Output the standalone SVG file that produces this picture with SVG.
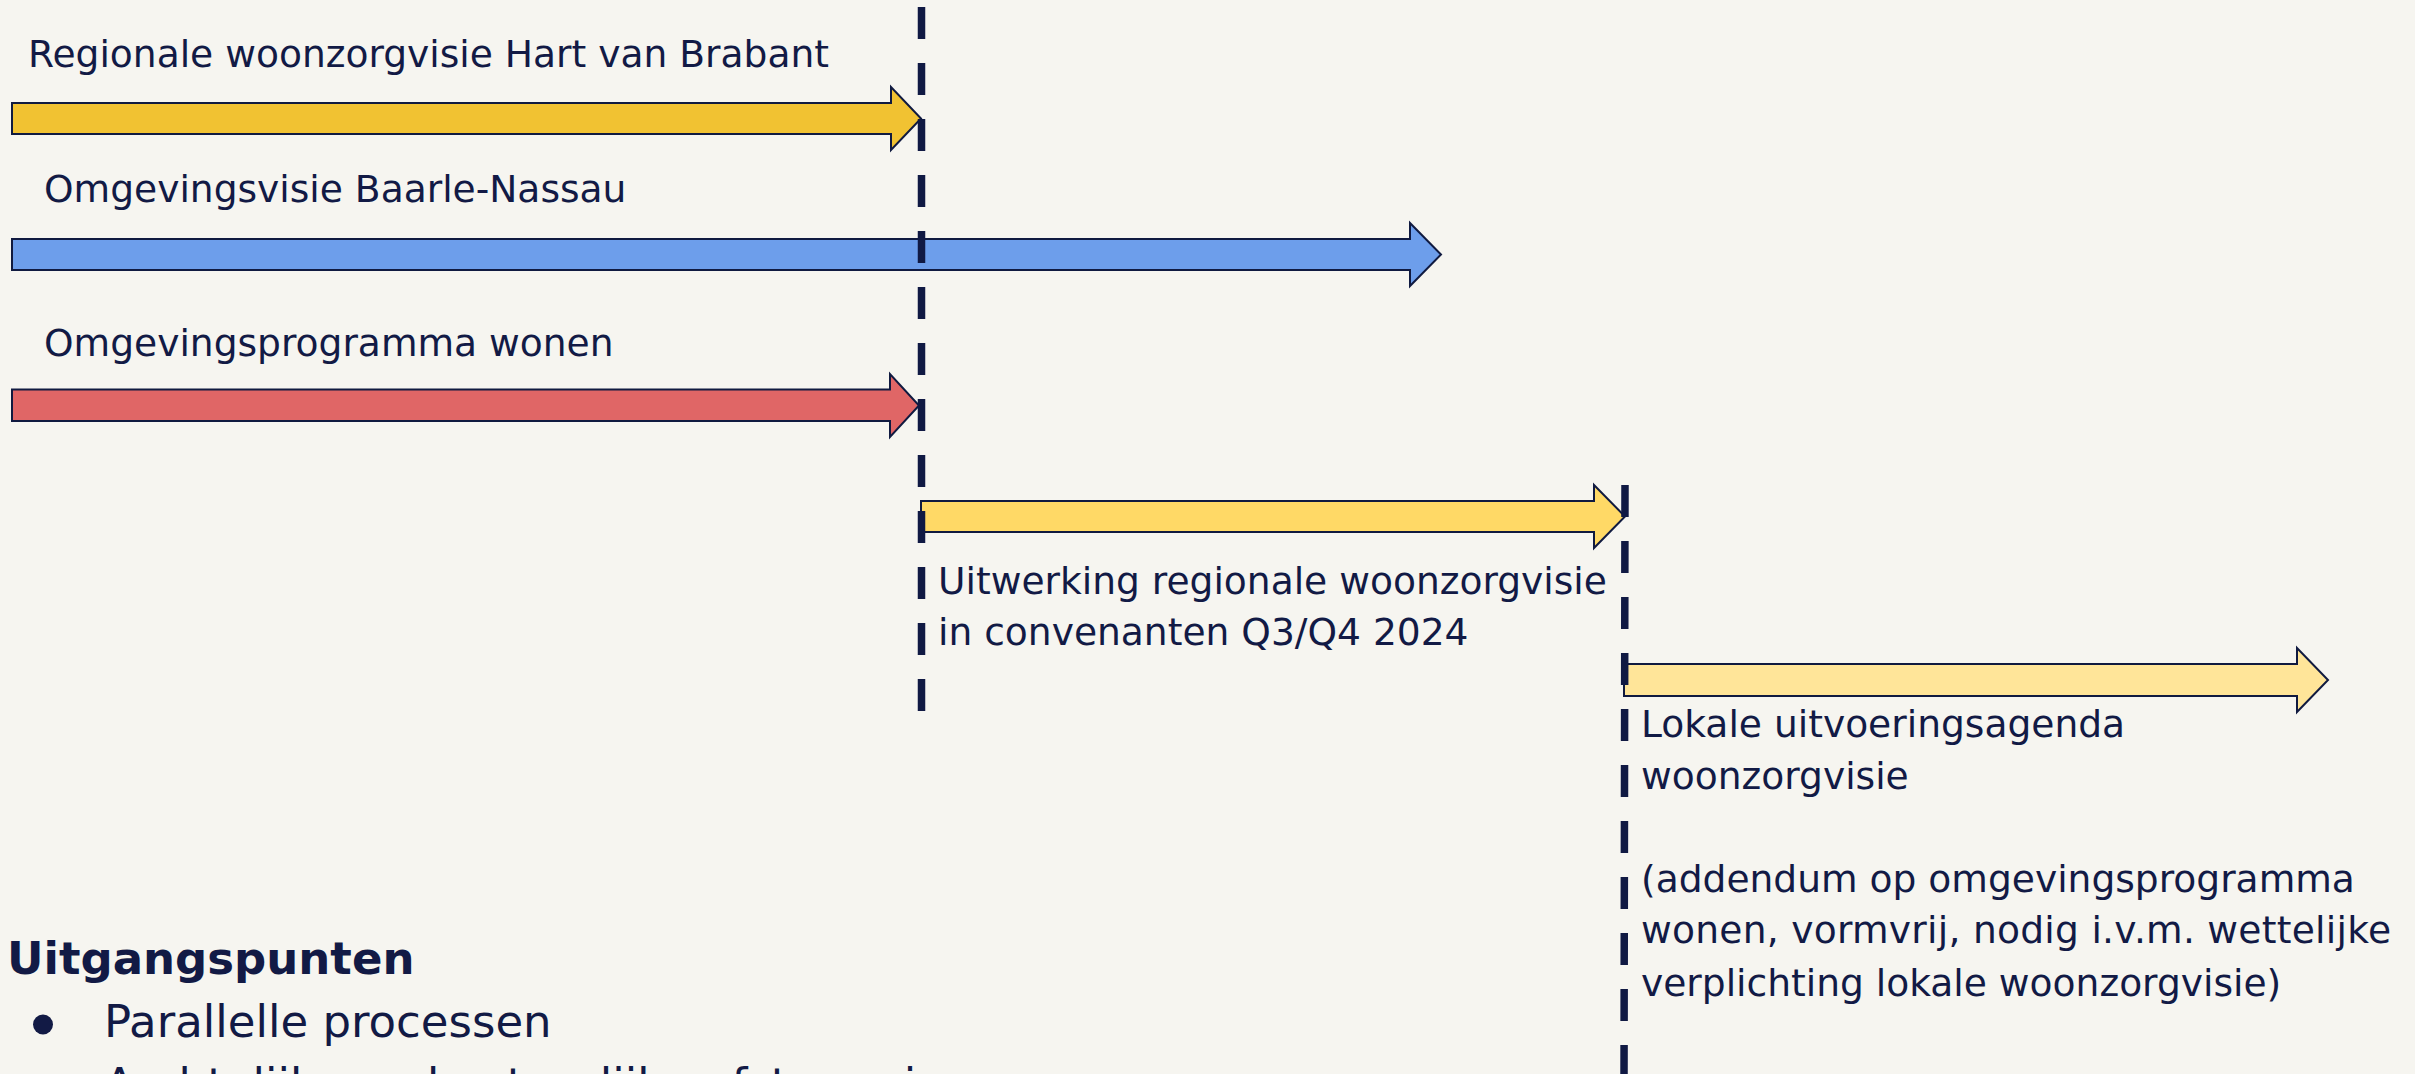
<svg xmlns="http://www.w3.org/2000/svg" width="2415" height="1074" viewBox="0 0 2415 1074">
<style>
.lbl{font-family:"DejaVu Sans","Verdana",sans-serif;font-size:37.6px;fill:#121A45}
.big{font-family:"DejaVu Sans","Verdana",sans-serif;font-size:45px;fill:#121A45}
.bold{font-weight:bold}
.arrow{stroke:#101A40;stroke-width:2;stroke-linejoin:miter}
.milestone{stroke:#101943;stroke-width:7.5;stroke-dasharray:32 24;fill:none}
</style>
<rect width="2415" height="1074" fill="#F6F5F0"/>
<g id="node-regionale">
<path class="arrow" fill="#F1C232" d="M12,103 H891 V87 L921,118.5 L891,150 V134 H12 Z"/>
<text class="lbl" x="28" y="67">Regionale woonzorgvisie Hart van Brabant</text>
</g>
<g id="node-omgevingsvisie">
<path class="arrow" fill="#6D9EEB" d="M12,239 H1410 V223 L1441,254.5 L1410,286 V270 H12 Z"/>
<text class="lbl" x="44" y="202">Omgevingsvisie Baarle-Nassau</text>
</g>
<g id="node-omgevingsprogramma">
<path class="arrow" fill="#E06666" d="M12,389.5 H890 V374 L919,405.5 L890,437 V421 H12 Z"/>
<text class="lbl" x="44" y="356">Omgevingsprogramma wonen</text>
</g>
<g id="node-uitwerking">
<path class="arrow" fill="#FFD966" d="M921,501 H1594 V485 L1625,516.5 L1594,548 V532 H921 Z"/>
<text class="lbl" x="938" y="594">Uitwerking regionale woonzorgvisie</text>
<text class="lbl" x="938" y="645">in convenanten Q3/Q4 2024</text>
</g>
<g id="node-lokale">
<path class="arrow" fill="#FFE599" d="M1624,664 H2297 V648 L2328,680 L2297,712 V696 H1624 Z"/>
<text class="lbl" x="1641" y="737">Lokale uitvoeringsagenda</text>
<text class="lbl" x="1641" y="789">woonzorgvisie</text>
<text class="lbl" x="1641" y="892">(addendum op omgevingsprogramma</text>
<text class="lbl" x="1641" y="943" textLength="750" lengthAdjust="spacing">wonen, vormvrij, nodig i.v.m. wettelijke</text>
<text class="lbl" x="1641" y="996">verplichting lokale woonzorgvisie)</text>
</g>
<g id="connectors">
<line class="milestone" x1="921.5" y1="7" x2="921.5" y2="711"/>
<line class="milestone" x1="1625" y1="485" x2="1624" y2="1090"/>
</g>
<g id="uitgangspunten">
<text class="big bold" x="7" y="974">Uitgangspunten</text>
<circle cx="43" cy="1024.5" r="10" fill="#121A45"/>
<text class="big" x="104" y="1037">Parallelle processen</text>
<text class="big" x="104" y="1100">Ambtelijke en bestuurlijke afstemming</text>
</g>
</svg>
